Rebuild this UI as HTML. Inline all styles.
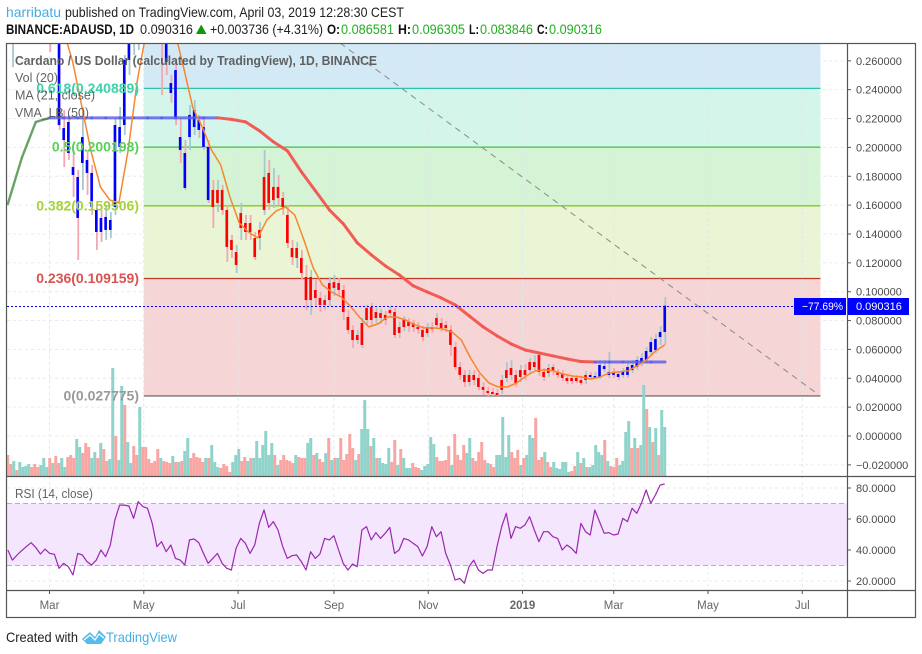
<!DOCTYPE html>
<html>
<head>
<meta charset="utf-8">
<title>ADAUSD chart</title>
<style>
html,body{margin:0;padding:0;background:#fff;}
svg{display:block;font-family:"Liberation Sans",sans-serif;}
</style>
</head>
<body>
<svg id="chart" xmlns="http://www.w3.org/2000/svg" width="922" height="654" viewBox="0 0 922 654">
  <defs>
    <clipPath id="main-clip"><rect x="7" y="44" width="840" height="432"/></clipPath>
    <clipPath id="rsi-clip"><rect x="7" y="476" width="840" height="114"/></clipPath>
  </defs>
  <rect x="0" y="0" width="922" height="654" fill="#ffffff"/>
  <g font-size="14">
    <text x="6" y="17" fill="#45ade0" textLength="55" lengthAdjust="spacingAndGlyphs">harribatu</text>
    <text x="65" y="17" fill="#222" textLength="339" lengthAdjust="spacingAndGlyphs">published on TradingView.com, April 03, 2019 12:28:30 CEST</text>
  </g>
  <g font-size="13.5">
    <text x="6" y="34" fill="#111" font-weight="bold" textLength="128" lengthAdjust="spacingAndGlyphs">BINANCE:ADAUSD, 1D</text>
    <text x="140" y="34" fill="#222" textLength="53" lengthAdjust="spacingAndGlyphs">0.090316</text>
    <polygon points="196,34 206.5,34 201.2,24.5" fill="#0a9a0a"/>
    <text x="210" y="34" fill="#222" textLength="113" lengthAdjust="spacingAndGlyphs">+0.003736 (+4.31%)</text>
    <text x="327" y="34" fill="#111" font-weight="bold" textLength="13" lengthAdjust="spacingAndGlyphs">O:</text>
    <text x="341" y="34" fill="#1fb01f" textLength="53" lengthAdjust="spacingAndGlyphs">0.086581</text>
    <text x="398" y="34" fill="#111" font-weight="bold" textLength="13" lengthAdjust="spacingAndGlyphs">H:</text>
    <text x="412" y="34" fill="#1fb01f" textLength="53" lengthAdjust="spacingAndGlyphs">0.096305</text>
    <text x="469" y="34" fill="#111" font-weight="bold" textLength="10" lengthAdjust="spacingAndGlyphs">L:</text>
    <text x="480" y="34" fill="#1fb01f" textLength="53" lengthAdjust="spacingAndGlyphs">0.083846</text>
    <text x="537" y="34" fill="#111" font-weight="bold" textLength="11" lengthAdjust="spacingAndGlyphs">C:</text>
    <text x="549" y="34" fill="#1fb01f" textLength="53" lengthAdjust="spacingAndGlyphs">0.090316</text>
  </g>

  <g id="grid"></g>
  <g id="fib" clip-path="url(#main-clip)"></g>
  <g id="volume" clip-path="url(#main-clip)"></g>
  <g id="candles" clip-path="url(#main-clip)"></g>
  <g id="vma" clip-path="url(#main-clip)"></g>
  <g id="ma" clip-path="url(#main-clip)"></g>
  <g id="trend" clip-path="url(#main-clip)"></g>
  <g id="lastline"></g>
  <g id="fiblabels" font-size="14" font-weight="bold"></g>
  <g id="rsi" clip-path="url(#rsi-clip)"></g>

  <g fill="#555" font-size="13" opacity="0.92">
    <text x="15" y="65" font-weight="bold" textLength="362" lengthAdjust="spacingAndGlyphs">Cardano / US Dollar (calculated by TradingView), 1D, BINANCE</text>
    <text x="15" y="82" textLength="43" lengthAdjust="spacingAndGlyphs">Vol (20)</text>
    <text x="15" y="99.5" textLength="80" lengthAdjust="spacingAndGlyphs">MA (21, close)</text>
    <text x="15" y="117" textLength="74" lengthAdjust="spacingAndGlyphs">VMA_LB (50)</text>
    <text x="15" y="498" textLength="78" lengthAdjust="spacingAndGlyphs">RSI (14, close)</text>
  </g>

  <g stroke="#555" stroke-width="1.2" fill="none">
    <rect x="6.5" y="43.5" width="909" height="574"/>
    <line x1="847.5" y1="43.5" x2="847.5" y2="617.5"/>
    <line x1="6.5" y1="476.5" x2="915.5" y2="476.5"/>
    <line x1="6.5" y1="590.5" x2="915.5" y2="590.5"/>
  </g>
  <g id="axes" font-size="11" fill="#4a4a4a"></g>

  <g id="pricetags">
    <rect x="794" y="298" width="52" height="17" fill="#0000ff"/>
    <text x="802" y="310" font-size="11" fill="#fff" textLength="41" lengthAdjust="spacingAndGlyphs">−77.69%</text>
    <rect x="848" y="298" width="61" height="17" fill="#0000ff"/>
    <text x="856" y="310" font-size="11" fill="#fff">0.090316</text>
  </g>

  <g>
    <text x="6" y="642" font-size="14" fill="#222" textLength="72" lengthAdjust="spacingAndGlyphs">Created with</text>
    <path d="M82 639 L90 632 L95 637 L99 630 L106 637 L101 644 L87 644 Z" fill="#55bbea"/>
    <path d="M84 640 L90 635 L95 640 L99 634 L104 638" fill="none" stroke="#ffffff" stroke-width="1.2"/>
    <text x="106" y="642" font-size="14" fill="#45b0e5" textLength="71" lengthAdjust="spacingAndGlyphs">TradingView</text>
  </g>
</svg>
<script>
const priceTicks = [0.26,0.24,0.22,0.20,0.18,0.16,0.14,0.12,0.10,0.08,0.06,0.04,0.02,0,-0.02];
const rsiTicks = [80,60,40,20];
const timeTickDays = [0,61,122,184,245,306,365,426,487];
const timeTickLabels = ['Mar','May','Jul','Sep','Nov','2019','Mar','May','Jul'];
const fibRatios = ['0.618','0.5','0.382','0.236','0'];
const fibPrices = [0.240889,0.200198,0.159506,0.109159,0.027775];
const fibLineColors = ['#2cc7a0','#46bf46','#86c91e','#c0392b','#7d7070'];
const fibLabelColors = ['#3ed2aa','#58d158','#a6d23c','#d9534f','#999999'];
const fibZoneColors = ['#d3e9f5','#d3f5ea','#d5f3d5','#eaf5d5','#f5d5d5'];
const lastPrice = 0.090316;
const trendDays = [188,496];
const trendPrices = [0.2723,0.0298];
const firstDay = -27;
const lastDay = 398;

const opens = [.323,.316,.323,.330,.337,.344,.337,.330,.316,.309,.302,.2952,.2134,.2176,.1864,.1795,.1892,.1913,.1823,.1566,.1511,.1428,.1428,.1587,.2003,.2155,.2606,.2744,.2814,.2918,.3091,.3160,.3160,.3091,.2952,.2446,.2536,.2072,.1961,.2072,.2141,.2190,.2141,.2003,.1705,.1615,.1705,.1566,.1358,.1185,.1441,.1476,.1476,.1372,.1372,.1566,.1823,.1635,.1726,.1649,.1532,.1303,.1234,.1234,.1102,.0942,.1012,.0956,.0908,.0942,.1026,.1060,.1012,.0825,.0735,.0665,.0631,.0804,.0894,.0818,.0818,.0839,.0852,.0859,.0714,.0755,.0790,.0783,.0755,.0735,.0714,.0755,.0769,.0783,.0769,.0735,.0617,.0478,.0423,.0374,.0423,.0402,.0340,.0312,.0305,.0298,.0319,.0402,.0423,.0423,.0409,.0457,.0457,.0478,.0561,.0444,.0437,.0478,.0444,.0430,.0402,.0402,.0402,.0388,.0388,.0423,.0409,.0409,.0464,.0423,.0444,.0430,.0423,.0423,.0457,.0478,.0506,.0527,.0582,.0596,.0686,.0721];
const closes = [.316,.323,.330,.337,.344,.337,.330,.316,.309,.302,.295,.2155,.2051,.1961,.1809,.1511,.2072,.1823,.1587,.1414,.1414,.1518,.1497,.2155,.2141,.2606,.2814,.2883,.2952,.3091,.3160,.3229,.3091,.2952,.2592,.2377,.2204,.1982,.1719,.2225,.2259,.2121,.2003,.1635,.1587,.1705,.1566,.1310,.1289,.1275,.1545,.1414,.1414,.1240,.1428,.1795,.1615,.1726,.1649,.1587,.1337,.1240,.1303,.1130,.0942,.1102,.0956,.0908,.0942,.1060,.1067,.1012,.0859,.0735,.0665,.0700,.0783,.0887,.0804,.0859,.0852,.0804,.0873,.0700,.0755,.0804,.0762,.0755,.0741,.0686,.0755,.0741,.0818,.0748,.0748,.0631,.0478,.0423,.0374,.0423,.0388,.0340,.0319,.0298,.0291,.0284,.0388,.0457,.0471,.0367,.0457,.0423,.0513,.0513,.0444,.0409,.0471,.0450,.0423,.0402,.0381,.0381,.0381,.0367,.0423,.0409,.0416,.0492,.0485,.0444,.0423,.0409,.0444,.0478,.0492,.0527,.0541,.0589,.0651,.0672,.0721,.0903];
const highs = [.337,.337,.344,.351,.365,.358,.351,.344,.330,.323,.316,.3021,.2259,.2225,.1982,.1843,.2280,.1982,.1878,.1601,.1566,.1601,.1552,.2204,.2280,.2640,.2883,.2987,.3091,.3160,.3299,.3368,.3299,.3195,.3021,.2502,.2606,.2204,.2051,.2294,.2328,.2225,.2204,.2051,.1774,.1774,.1739,.1601,.1393,.1324,.1615,.1532,.1532,.1414,.1483,.1982,.1913,.1857,.1809,.1691,.1601,.1358,.1344,.1289,.1185,.1150,.1081,.0998,.0977,.1102,.1116,.1095,.1046,.0873,.0769,.0735,.0818,.0908,.0922,.0887,.0880,.0866,.0901,.0887,.0790,.0832,.0818,.0804,.0790,.0762,.0783,.0790,.0852,.0818,.0797,.0769,.0651,.0513,.0457,.0457,.0457,.0430,.0374,.0340,.0333,.0326,.0423,.0513,.0527,.0457,.0492,.0499,.0541,.0561,.0582,.0471,.0499,.0499,.0464,.0457,.0430,.0423,.0423,.0416,.0450,.0444,.0444,.0527,.0527,.0582,.0471,.0450,.0471,.0513,.0527,.0554,.0575,.0617,.0686,.0707,.0762,.0963];
const lows = [.309,.2557,.316,.323,.330,.323,.316,.309,.295,.2661,.2779,.2121,.1864,.1913,.1656,.1220,.1705,.1670,.1532,.1289,.1344,.1358,.1372,.1532,.1961,.2086,.2502,.2640,.2675,.2779,.2952,.2918,.2814,.2363,.2502,.2308,.2155,.1892,.1705,.1982,.2086,.2065,.1982,.1615,.1441,.1552,.1532,.1206,.1234,.1130,.1358,.1358,.1358,.1220,.1289,.1532,.1566,.1580,.1601,.1532,.1303,.1185,.1164,.1081,.0873,.0839,.0901,.0859,.0873,.0901,.0970,.0970,.0804,.0707,.0610,.0638,.0610,.0769,.0769,.0776,.0776,.0769,.0818,.0679,.0679,.0728,.0721,.0721,.0707,.0658,.0686,.0714,.0741,.0721,.0721,.0554,.0457,.0388,.0340,.0347,.0353,.0319,.0284,.0277,.0277,.0278,.0291,.0374,.0388,.0340,.0374,.0388,.0430,.0457,.0416,.0381,.0409,.0423,.0402,.0381,.0360,.0360,.0367,.0353,.0360,.0388,.0395,.0395,.0444,.0402,.0402,.0388,.0402,.0402,.0437,.0457,.0485,.0506,.0561,.0575,.0631,.0631];

const maStartDay = 9;
const maValues = [.2815,.2593,.2281,.1969,.1726,.1636,.1615,.1983,.2468,.2815,.3057,.3023,.2815,.2551,.2274,.2142,.1983,.1879,.1657,.1477,.1414,.1373,.1498,.1560,.1588,.1532,.1359,.1165,.1047,.0998,.0964,.0901,.0825,.0756,.0776,.0825,.0825,.0804,.0770,.0749,.0749,.0742,.0721,.0666,.0541,.0437,.0367,.0340,.0340,.0367,.0416,.0451,.0458,.0451,.0430,.0416,.0409,.0395,.0409,.0437,.0444,.0451,.0485,.0527,.0589,.0631];

const vmaValues = [.1608,.1927,.2176,.2205,.2205,.2205,.2205,.2205,.2205,.2205,.2205,.2205,.2205,.2205,.2205,.2205,.2194,.2177,.2115,.2038,.1976,.1830,.1699,.1567,.1470,.1338,.1255,.1179,.1116,.1040,.0998,.0957,.0908,.0832,.0756,.0693,.0638,.0596,.0575,.0555,.0534,.0516,.0513,.0513,.0513,.0513,.0513,.0513];
const vmaStates = ['g','g','g','b','b','b','b','b','b','b','b','b','b','b','b','r','r','r','r','r','r','r','r','r','r','r','r','r','r','r','r','r','r','r','r','r','r','r','r','r','r','r','b','b','b','b','b','b'];

const volumes = [21,12,15,6,14,9,10,12,9,12,9,11,18,9,18,13,20,13,18,9,19,21,18,37,29,23,33,29,18,24,18,33,27,15,17,108,40,16,90,71,34,13,30,21,69,29,29,17,13,15,27,18,15,14,13,20,14,14,15,25,38,18,23,19,18,14,18,18,31,14,9,8,12,10,4,14,21,27,15,19,15,18,18,35,18,31,45,21,33,21,11,16,21,16,15,13,21,19,18,18,33,38,21,23,17,14,23,38,16,18,18,38,16,22,42,28,16,22,47,76,47,30,38,18,18,13,12,28,14,36,11,27,18,8,8,13,9,8,6,10,12,39,32,19,15,15,16,30,11,42,21,16,31,23,38,18,15,24,34,16,13,12,9,21,21,59,19,41,24,18,26,11,18,21,41,38,58,16,19,24,14,9,14,8,7,14,14,4,5,10,24,13,18,9,9,11,31,24,21,36,15,10,9,18,11,15,44,55,28,38,28,31,91,67,49,34,48,21,66,49];
const volumeUp = [0,0,1,0,1,1,1,1,0,0,0,1,1,1,0,1,0,0,1,1,0,0,0,1,1,0,0,0,1,1,0,1,0,0,1,1,0,1,1,0,1,1,0,0,1,0,0,0,0,0,0,1,0,0,0,1,0,1,0,1,1,0,0,0,0,0,1,0,1,1,1,0,0,0,0,1,1,1,0,0,1,0,1,1,1,1,1,1,1,0,1,0,0,0,0,0,1,0,0,0,1,1,0,1,0,0,1,0,1,0,1,0,0,0,0,0,1,0,1,1,1,0,1,0,1,1,1,1,0,0,1,0,1,1,1,0,0,0,1,1,1,1,1,0,0,0,0,0,1,0,0,0,0,1,1,0,0,0,0,0,1,0,0,1,1,1,1,1,0,0,0,1,0,1,1,1,0,0,0,1,0,0,1,1,1,1,1,1,0,0,1,0,1,0,1,1,1,1,1,0,1,0,0,0,1,1,1,1,0,1,0,1,1,0,1,0,1,0,1,1];

const rsiValues = [40,33.5,36.8,39.6,42.2,44.7,41.7,37.4,40.6,37.8,37.2,28.2,31.4,29.2,23.9,37.8,36.8,32.5,30.3,33.5,40,35.7,43.2,59.4,69,69,68.4,60.4,71.2,68,66.9,57.2,42.2,45.4,38.9,43.2,34.6,33.5,30.3,46.5,47.1,44.7,37.8,31.4,34.6,37.8,31.4,28.2,27.1,41.1,47.5,44.3,37.8,43.2,57.2,65.8,54.6,58.3,52.9,42.2,34.6,36.3,36.8,32.5,27.1,38.9,34.6,37.4,47.5,46.5,49.2,40,31.4,27.1,31,29.2,52.9,55.1,46.5,51.2,47.5,50.8,54.6,37.8,40,47.5,46.5,44.3,42.2,36.1,42.2,55.1,48.6,51.8,37.8,30.3,20.6,21.7,18.5,29.2,33.5,27.1,24.9,27.1,27.1,42.2,55.1,63.7,47.5,55.1,54,56.1,61.5,52.9,45.4,51.8,51.8,48.6,47.5,40,43.2,41.1,37.8,57.2,51.8,49.7,65.8,58.3,50.8,51.2,49.7,50.3,60.4,58.3,66.9,63.7,70.1,78.7,70.1,75.5,81.9,82.6];
const rsiUpper = 70;
const rsiLower = 30;

const NS = 'http://www.w3.org/2000/svg';
const pxPerDay = 1.5458;
function xDay(d){ return 49.5 + d*pxPerDay; }
function yPrice(v){ return 436 - v*1443; }
function yVolume(v){ return 476 - v; }
function yRsi(r){ return 581 - (r-20)*1.55; }
function bandDay(i,n,start){ return start + i*(lastDay-start)/(n-1); }
function make(tag,attrs,parent,txt){
  const e = document.createElementNS(NS,tag);
  for(const k in attrs) e.setAttribute(k,attrs[k]);
  if(txt!==undefined) e.textContent = txt;
  parent.appendChild(e);
  return e;
}
const byId = id => document.getElementById(id);

/* grid */
const gridG = byId('grid');
priceTicks.forEach(t=>{
  const e = make('line',{x1:7,x2:847,y1:yPrice(t),y2:yPrice(t),stroke:'#e4ecee','stroke-dasharray':'3 3','stroke-width':1},gridG);
  
  
});
rsiTicks.forEach(t=>{
  const e = make('line',{x1:7,x2:847,y1:yRsi(t),y2:yRsi(t),stroke:'#e4ecee','stroke-dasharray':'3 3','stroke-width':1},gridG);
  
  
});

/* fib zones */
const fibG = byId('fib');
fibPrices.forEach((p,i)=>{
  const top = i===0 ? 44 : yPrice(fibPrices[i-1]);
  const z = make('rect',{x:xDay(61),y:top,width:820.5-xDay(61),height:yPrice(p)-top,fill:fibZoneColors[i]},fibG);
  
  
});
/* vertical grid above zones */
timeTickDays.forEach(d=>{
  const e = make('line',{x1:xDay(d),x2:xDay(d),y1:44,y2:476,stroke:'#dfe8ea','stroke-dasharray':'3 3','stroke-width':1},fibG);
  
  
  const e2 = make('line',{x1:xDay(d),x2:xDay(d),y1:476,y2:590,stroke:'#e4ecee','stroke-dasharray':'3 3','stroke-width':1},gridG);
  
  
});
fibPrices.forEach((p,i)=>{
  const l = make('line',{x1:xDay(61),x2:820.5,y1:yPrice(p),y2:yPrice(p),stroke:fibLineColors[i],'stroke-width':1.3},fibG);
  
  
  const t = make('text',{x:139,y:yPrice(p)+4.5,'text-anchor':'end',fill:fibLabelColors[i]},byId('fiblabels'),fibRatios[i]+'('+p.toFixed(6)+')');
  
  
});

/* volume */
const volG = byId('volume');
volumes.forEach((v,i)=>{
  const x = xDay(bandDay(i,volumes.length,firstDay));
  const r = make('rect',{x:x-1.5,y:yVolume(v),width:3,height:v,fill:volumeUp[i]?'#90d3ca':'#f9a6a3'},volG);
  
  
});

/* candles */
const cG = byId('candles');
closes.forEach((c,i)=>{
  const d = bandDay(i,closes.length,firstDay);
  const x = xDay(d);
  const o = opens[i];
  const up = c>=o;
  const vIdx = Math.round((x-7.8)/((665-7.8)/(vmaValues.length-1)));
  const blue = vmaStates[Math.min(vIdx,vmaStates.length-1)]!=='r';
  const w = make('line',{x1:x+0.6,x2:x+0.6,y1:yPrice(highs[i]),y2:yPrice(lows[i]),stroke:up?'#a8c9cc':'#f2a8b2','stroke-width':1.8},cG);
  
  
  const top = yPrice(Math.max(o,c));
  const h = Math.max(1.5,Math.abs(yPrice(o)-yPrice(c)));
  const b = make('rect',{x:x-1.3,y:top,width:2.6,height:h,fill:blue?'#0000ff':'#ff0000'},cG);
  
  
});

/* VMA */
const vmaColors = {g:'#5f9e5f',b:'#5757ee',r:'#f2544f'};
const vmaG = byId('vma');
for(let i=0;i<vmaValues.length-1;i++){
  const n = vmaValues.length;
  const x1 = 7.8+i*(665-7.8)/(n-1);
  const x2 = 7.8+(i+1)*(665-7.8)/(n-1);
  const s = make('line',{x1:x1,x2:x2,y1:yPrice(vmaValues[i]),y2:yPrice(vmaValues[i+1]),stroke:vmaColors[vmaStates[i]],'stroke-width':vmaStates[i]==='g'?2.4:3,'stroke-linecap':'round','stroke-opacity':vmaStates[i]==='b'?0.8:0.95},vmaG);
  
  
}

/* MA */
const maPts = maValues.map((v,i)=>xDay(bandDay(i,maValues.length,maStartDay)).toFixed(1)+','+yPrice(v).toFixed(1)).join(' ');
const maL = make('polyline',{points:maPts,fill:'none',stroke:'#f7862e','stroke-width':1.5,'stroke-linejoin':'round'},byId('ma'));



/* trend line */
const tl = make('line',{x1:xDay(trendDays[0]),x2:xDay(trendDays[1]),y1:yPrice(trendPrices[0]),y2:yPrice(trendPrices[1]),stroke:'#8a8a8a','stroke-width':1,'stroke-dasharray':'6 5'},byId('trend'));



/* last price line */
const lastY = Math.round(yPrice(lastPrice))+0.5;
const lp = make('line',{x1:7,x2:847,y1:lastY,y2:lastY,stroke:'#0000ff','stroke-width':1,'stroke-dasharray':'2 2'},byId('lastline'));



/* RSI */
const rsiG = byId('rsi');
const band = make('rect',{x:7,y:yRsi(rsiUpper),width:840,height:yRsi(rsiLower)-yRsi(rsiUpper),fill:'#f3e6fd'},rsiG);


[rsiUpper,rsiLower].forEach(v=>{
  const l = make('line',{x1:7,x2:847,y1:yRsi(v),y2:yRsi(v),stroke:'#bfa8c8','stroke-width':1.1,'stroke-dasharray':'5 3'},rsiG);
  
  
});
const rsiPts = rsiValues.map((v,i)=>xDay(bandDay(i,rsiValues.length,firstDay)).toFixed(1)+','+yRsi(v).toFixed(1)).join(' ');
const rl = make('polyline',{points:rsiPts,fill:'none',stroke:'#9c27b0','stroke-width':1.2,'stroke-linejoin':'round'},rsiG);



/* axes */
const axG = byId('axes');
priceTicks.forEach(t=>{
  const m = make('line',{x1:847,x2:851,y1:yPrice(t),y2:yPrice(t),stroke:'#555','stroke-width':1},axG);
  
  
  const l = make('text',{x:856,y:yPrice(t)+4},axG,(t<0?'−':'')+Math.abs(t).toFixed(6));
  
  
});
rsiTicks.forEach(t=>{
  const m = make('line',{x1:847,x2:851,y1:yRsi(t),y2:yRsi(t),stroke:'#555','stroke-width':1},axG);
  
  
  const l = make('text',{x:856,y:yRsi(t)+4},axG,t.toFixed(4));
  
  
});
timeTickDays.forEach((d,i)=>{
  const m = make('line',{x1:xDay(d),x2:xDay(d),y1:590,y2:594,stroke:'#555','stroke-width':1},axG);
  
  
  const attrs = {x:xDay(d),y:609,'text-anchor':'middle','font-size':11.5,fill:'#666'};
  if(timeTickLabels[i]==='2019') attrs['font-weight']='bold';
  const l = make('text',attrs,axG,timeTickLabels[i]);
  
  
});
</script>
</body>
</html>
